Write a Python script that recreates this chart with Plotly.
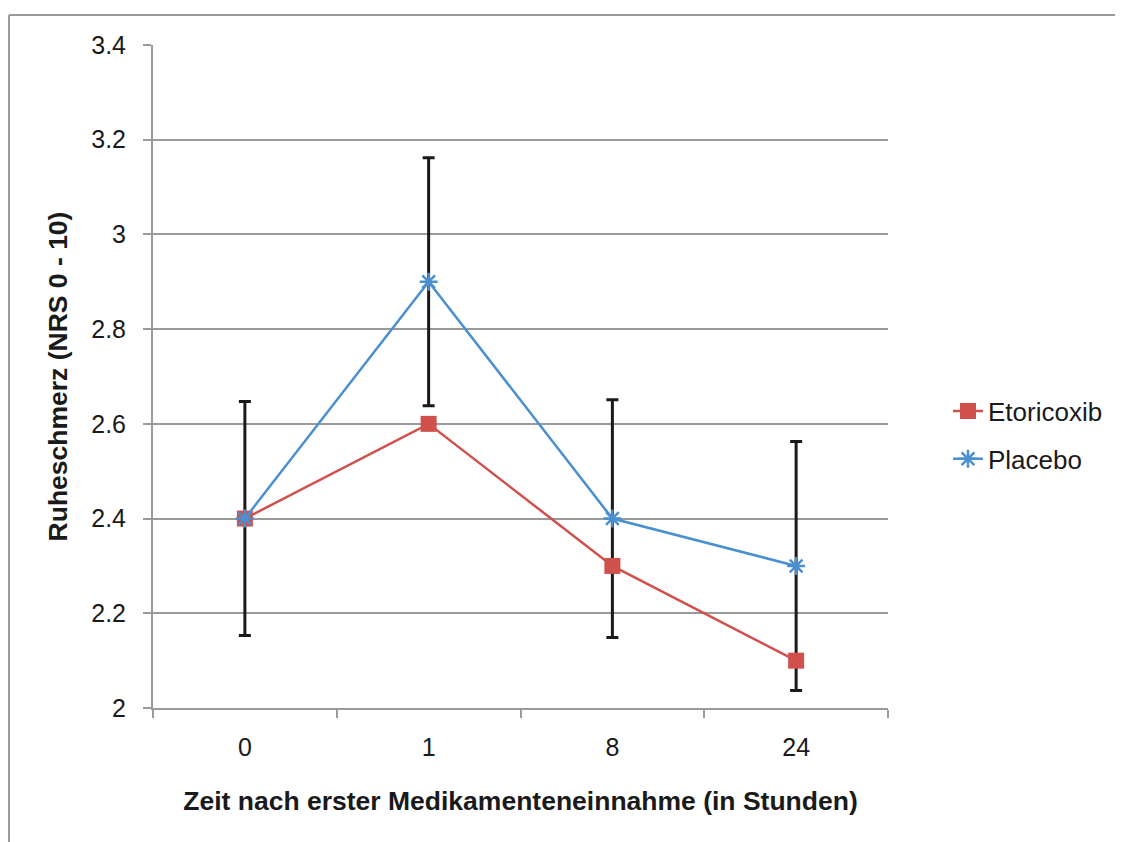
import plotly.graph_objects as go

categories = ["0", "1", "8", "24"]
etoricoxib = [2.4, 2.6, 2.3, 2.1]
placebo = [2.4, 2.9, 2.4, 2.3]
placebo_err = [0.247, 0.262, 0.251, 0.263]
y_ticks = [2, 2.2, 2.4, 2.6, 2.8, 3, 3.2, 3.4]
y_tick_labels = ["2", "2.2", "2.4", "2.6", "2.8", "3", "3.2", "3.4"]

RED = "#D0504C"
BLUE = "#4A8FD0"
GRID = "#9A9A9A"
FONT = "Liberation Sans"

fig = go.Figure()

# error bars (drawn first so markers sit on top)
fig.add_trace(go.Scatter(
    x=categories, y=placebo, mode="markers",
    marker=dict(color="rgba(0,0,0,0)", size=1),
    error_y=dict(type="data", array=placebo_err, visible=True,
                 color="#1A1A1A", thickness=3, width=6),
    showlegend=False, hoverinfo="skip"))

fig.add_trace(go.Scatter(
    x=categories, y=etoricoxib, mode="lines+markers", name="Etoricoxib",
    line=dict(color=RED, width=2.5),
    marker=dict(symbol="square", size=16, color=RED),
    legendgroup="a"))

fig.add_trace(go.Scatter(
    x=categories, y=placebo, mode="lines+markers", name="Placebo",
    line=dict(color=BLUE, width=2.5),
    marker=dict(symbol="asterisk-open", size=15, color=BLUE,
                line=dict(color=BLUE, width=2.5)),
    legendgroup="b"))

# page has an 8px body margin; work in figure coordinates
OFF = 8
FW, FH = 1123 - OFF, 842 - OFF
L, R, T, B = 153 - OFF, 888 - OFF, 45 - OFF, 708 - OFF
W, H = R - L, B - T

def px_x(x):
    return (x - OFF - L) / W

def px_y(y):
    return (B - (y - OFF)) / H

fig.update_layout(
    width=FW, height=FH,
    margin=dict(l=L, r=FW - R, t=T, b=FH - B, autoexpand=False),
    paper_bgcolor="white", plot_bgcolor="white",
    font=dict(family=FONT, size=25, color="#1A1A1A"),
    legend=dict(x=px_x(948), y=px_y(435), xanchor="left", yanchor="middle",
                font=dict(size=26, family=FONT), tracegroupgap=11,
                bgcolor="rgba(0,0,0,0)"),
    xaxis=dict(
        type="category", range=[-0.5, 3.5],
        showgrid=False, showline=True, linecolor=GRID, linewidth=2,
        ticks="outside", tickson="boundaries", ticklen=8, tickcolor=GRID,
        tickwidth=1.5, tickfont=dict(size=25, family=FONT),
        ticklabelstandoff=16,
        title=dict(text="<b>Zeit nach erster Medikamenteneinnahme (in Stunden)</b>",
                   font=dict(size=26.5, family=FONT), standoff=31),
        zeroline=False),
    yaxis=dict(
        range=[2, 3.4], tickvals=y_ticks, ticktext=y_tick_labels,
        showgrid=True, gridcolor=GRID, gridwidth=2,
        showline=True, linecolor=GRID, linewidth=2,
        ticks="outside", ticklen=8, tickcolor=GRID, tickwidth=1.5,
        tickfont=dict(size=25, family=FONT),
        ticklabelstandoff=12,
        title=dict(text="<b>Ruheschmerz (NRS 0 - 10)</b>",
                   font=dict(size=26.5, family=FONT), standoff=16),
        zeroline=False),
    shapes=[
        dict(type="line", xref="paper", yref="paper",
             x0=px_x(9), x1=px_x(1140), y0=px_y(15), y1=px_y(15),
             line=dict(color=GRID, width=2)),
        dict(type="line", xref="paper", yref="paper",
             x0=px_x(9), x1=px_x(9), y0=px_y(15), y1=px_y(860),
             line=dict(color=GRID, width=2)),
    ],
)

fig.write_html("out.html")
